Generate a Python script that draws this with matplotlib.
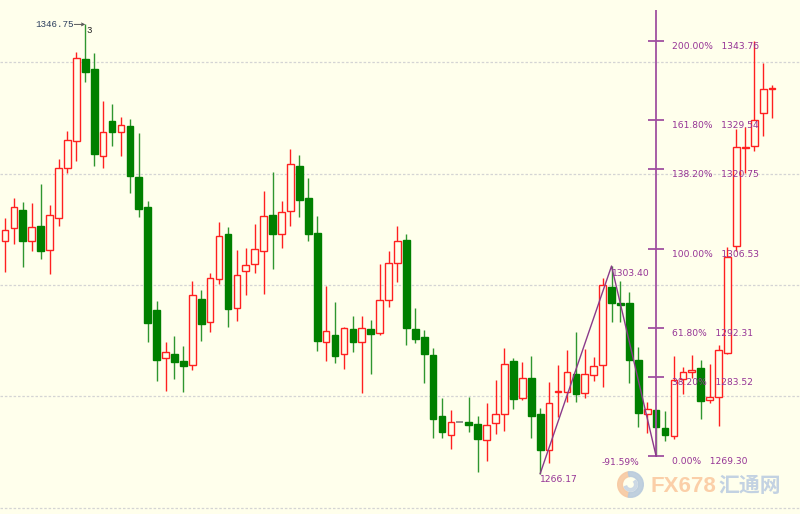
import matplotlib
matplotlib.use("Agg")
import matplotlib.pyplot as plt
from matplotlib.patches import Wedge
import numpy as np

# daily OHLC (left to right)
opens = [1307.87, 1310.20, 1313.43, 1307.87, 1310.56, 1306.25, 1312.00, 1320.97, 1325.82, 1340.54,
         1338.74, 1323.13, 1329.41, 1327.44, 1328.51, 1319.36, 1313.97, 1295.48, 1286.87, 1287.59,
         1286.33, 1285.61, 1297.46, 1293.33, 1301.05, 1309.13, 1295.84, 1302.48, 1303.74, 1306.07,
         1312.54, 1309.13, 1313.25, 1321.33, 1315.59, 1309.31, 1289.74, 1291.00, 1287.59, 1292.07,
         1289.74, 1292.07, 1291.36, 1297.28, 1303.92, 1308.05, 1292.07, 1290.64, 1287.41, 1276.46,
         1273.05, 1275.38, 1275.38, 1275.02, 1272.15, 1275.20, 1276.82, 1286.33, 1279.69, 1283.28,
         1276.82, 1270.36, 1280.77, 1280.77, 1284.00, 1280.59, 1283.82, 1285.61, 1299.62, 1296.74,
         1296.74, 1286.51, 1276.82, 1277.54, 1274.31, 1272.87, 1283.10, 1284.36, 1285.07, 1279.33,
         1279.87, 1287.77, 1306.97, 1324.56, 1324.92, 1330.85, 1335.15]
highs = [1312.00, 1315.59, 1314.87, 1314.69, 1318.10, 1314.33, 1322.59, 1327.61, 1341.80, 1346.75,
         1341.62, 1333.00, 1332.46, 1330.13, 1329.77, 1327.26, 1315.05, 1297.10, 1289.74, 1290.82,
         1289.02, 1300.70, 1299.08, 1302.13, 1311.28, 1310.38, 1306.25, 1306.61, 1310.92, 1316.84,
         1320.26, 1315.05, 1324.38, 1323.31, 1319.18, 1312.36, 1299.80, 1296.92, 1292.43, 1294.41,
         1294.41, 1293.69, 1303.74, 1306.07, 1310.56, 1309.13, 1295.84, 1291.89, 1288.66, 1279.69,
         1277.54, 1275.38, 1279.87, 1276.46, 1278.79, 1282.92, 1288.66, 1286.87, 1286.15, 1287.23,
         1277.89, 1282.56, 1285.61, 1288.30, 1291.54, 1288.48, 1287.05, 1301.23, 1303.40, 1300.70,
         1298.72, 1288.84, 1278.97, 1277.54, 1277.36, 1287.23, 1285.25, 1287.41, 1286.51, 1285.79,
         1289.20, 1306.79, 1327.97, 1328.33, 1343.76, 1339.82, 1335.87]
lows = [1302.31, 1307.33, 1303.20, 1306.07, 1304.64, 1301.95, 1310.56, 1320.08, 1322.23, 1336.41,
        1321.33, 1320.97, 1324.92, 1323.13, 1316.49, 1312.18, 1289.74, 1282.74, 1280.94, 1283.10,
        1280.77, 1284.71, 1289.92, 1291.54, 1300.16, 1292.43, 1293.51, 1298.18, 1302.13, 1298.36,
        1302.84, 1306.61, 1310.56, 1312.18, 1307.87, 1288.12, 1286.33, 1285.97, 1284.89, 1287.95,
        1280.59, 1284.00, 1291.00, 1296.02, 1300.52, 1289.20, 1289.56, 1282.38, 1272.51, 1272.51,
        1270.54, 1275.38, 1273.59, 1266.40, 1268.38, 1273.23, 1273.77, 1277.71, 1279.33, 1272.51,
        1266.17, 1268.02, 1276.28, 1278.97, 1278.97, 1279.69, 1282.74, 1281.66, 1293.33, 1293.33,
        1282.38, 1274.49, 1273.41, 1269.30, 1271.97, 1272.33, 1280.41, 1283.28, 1275.92, 1278.79,
        1274.67, 1287.59, 1306.07, 1320.08, 1324.02, 1326.72, 1329.95]
closes = [1309.84, 1313.97, 1307.87, 1310.38, 1306.07, 1312.54, 1320.97, 1326.00, 1340.72, 1338.21,
          1323.49, 1327.44, 1327.44, 1328.69, 1319.54, 1313.61, 1293.15, 1286.51, 1287.95, 1286.15,
          1285.43, 1298.18, 1292.97, 1301.23, 1308.77, 1295.66, 1301.77, 1303.56, 1306.43, 1312.36,
          1309.13, 1313.08, 1321.69, 1315.23, 1309.13, 1289.92, 1291.71, 1287.23, 1292.25, 1289.74,
          1292.25, 1291.18, 1297.28, 1303.92, 1307.87, 1292.25, 1290.28, 1287.59, 1275.92, 1273.59,
          1275.38, 1275.38, 1274.85, 1272.33, 1274.85, 1276.82, 1285.79, 1279.51, 1283.28, 1276.46,
          1270.36, 1278.79, 1280.94, 1284.36, 1280.41, 1284.00, 1285.43, 1299.98, 1296.74, 1296.38,
          1286.51, 1277.00, 1277.71, 1274.49, 1273.05, 1282.92, 1284.36, 1284.71, 1279.15, 1279.87,
          1288.30, 1305.00, 1324.74, 1324.74, 1329.59, 1335.15, 1335.33]

# zigzag swing points (candle index, price) and fibonacci expansion levels
swing_idx = [60, 68, 73]
swing_price = [1266.17, 1303.40, 1269.30]
fib_pcts = [0.0, 0.382, 0.618, 1.0, 1.382, 1.618, 2.0]
fib_top = 1349.33
grid_levels = [1260, 1280, 1300, 1320, 1340]
peak_idx = 9

BG = '#ffffec'
UP = '#ff2020'
DOWN = '#008000'
DOWN_WICK = '#2f962f'
FIB = '#a050a0'
FIB_TXT = '#953395'

fig = plt.figure(figsize=(8, 5.14), dpi=100)
fig.patch.set_facecolor(BG)
ax = fig.add_axes([0, 0, 1, 1])
ax.set_xlim(-0.56, 89.13)
ax.set_ylim(1258.92, 1351.13)
ax.axis('off')

for g in grid_levels:
    ax.axhline(g, color='#d4d4d4', lw=0.9, ls=(0, (2, 1.5)), zorder=0)

# candles
for i, (o, h, l, c) in enumerate(zip(opens, highs, lows, closes)):
    if c > o:
        ax.vlines(i, l, h, color=UP, lw=1, zorder=1)
        ax.bar(i, max(c - o, 0.05), bottom=o, width=0.75, facecolor=BG,
               edgecolor=UP, linewidth=1, zorder=2)
    elif c < o:
        ax.vlines(i, l, h, color=DOWN_WICK, lw=1, zorder=1)
        ax.bar(i, o - c, bottom=c, width=0.75, facecolor=DOWN,
               edgecolor=DOWN, linewidth=1, zorder=2)
    else:
        ax.hlines(o, i - 0.4, i + 0.4, color='#808080', lw=1.2, zorder=2)

# zigzag
ax.plot(swing_idx, swing_price, color='#8a3a8a', lw=1, zorder=5)

lo, hi, base = swing_price
rng = hi - lo
fx = swing_idx[2]
levels = [base + p * rng for p in fib_pcts]
ax.vlines(fx, base, fib_top, color=FIB, lw=1.3, zorder=4)
ax.hlines(levels, fx - 0.9, fx + 0.9, color=FIB, lw=1.3, zorder=4)
for p, lv in zip(fib_pcts, levels):
    ax.annotate(f"{p * 100:.2f}%   {lv:.2f}", (fx, lv), xytext=(16, -5.5),
                textcoords='offset pixels', ha='left', va='center',
                fontsize=6.6, color=FIB_TXT, zorder=6)

retr = (hi - base) / rng
ax.annotate(f"-{retr * 100:.2f}%", (fx, base), xytext=(-17, -6),
            textcoords='offset pixels', ha='right', va='center',
            fontsize=6.6, color=FIB_TXT, zorder=6)
ax.annotate(f"{hi:.2f}", (swing_idx[1], hi), xytext=(0, -7),
            textcoords='offset pixels', ha='left', va='center',
            fontsize=6.6, color=FIB_TXT, zorder=6)
ax.annotate(f"{lo:.2f}", (swing_idx[0], lo), xytext=(0, -6),
            textcoords='offset pixels', ha='left', va='center',
            fontsize=6.6, color=FIB_TXT, zorder=6)

# highest high marker
ph = highs[peak_idx]
ax.annotate(f"{ph:.2f}", (peak_idx, ph), xytext=(-12, 0), textcoords='offset pixels',
            ha='right', va='center', fontsize=6.7, family='Liberation Mono', color='#2c3e5e')
ax.annotate('', xy=(peak_idx, ph), xytext=(-11, 0), textcoords='offset pixels',
            arrowprops=dict(arrowstyle='->', color='#555555', lw=0.7,
                            shrinkA=0, shrinkB=0, mutation_scale=5))
ax.annotate('3', (peak_idx, ph), xytext=(1, -6), textcoords='offset pixels',
            ha='left', va='center', fontsize=6.5, family='Liberation Mono', color='#222222')

# watermark
lax = fig.add_axes([617 / 800, 1 - 498 / 514, 27 / 800, 27 / 514])
lax.set_xlim(-1, 1)
lax.set_ylim(-1, 1)
lax.set_aspect('equal')
lax.axis('off')
lax.add_patch(Wedge((0, 0), 0.95, 100, 260, width=0.35, color='#f7c9a2', alpha=0.9))
lax.add_patch(Wedge((0, 0), 0.95, 260, 100, width=0.35, color='#b9cbdd', alpha=0.9))
lax.add_patch(Wedge((0, 0), 0.5, 200, 40, width=0.2, color='#c9d6e4', alpha=0.9))
fig.text(650 / 800, 1 - 486 / 514, 'FX678', fontsize=16, fontweight='bold',
         family='Liberation Sans', color='#fbcfa8', ha='left', va='center')
fig.text(718 / 800, 1 - 486 / 514, '汇通网', fontsize=15, fontweight='bold',
         family=['Noto Sans CJK SC', 'DejaVu Sans'], color='#c3d2e2', ha='left', va='center')

fig.savefig('out.png', dpi=100, facecolor=BG)
